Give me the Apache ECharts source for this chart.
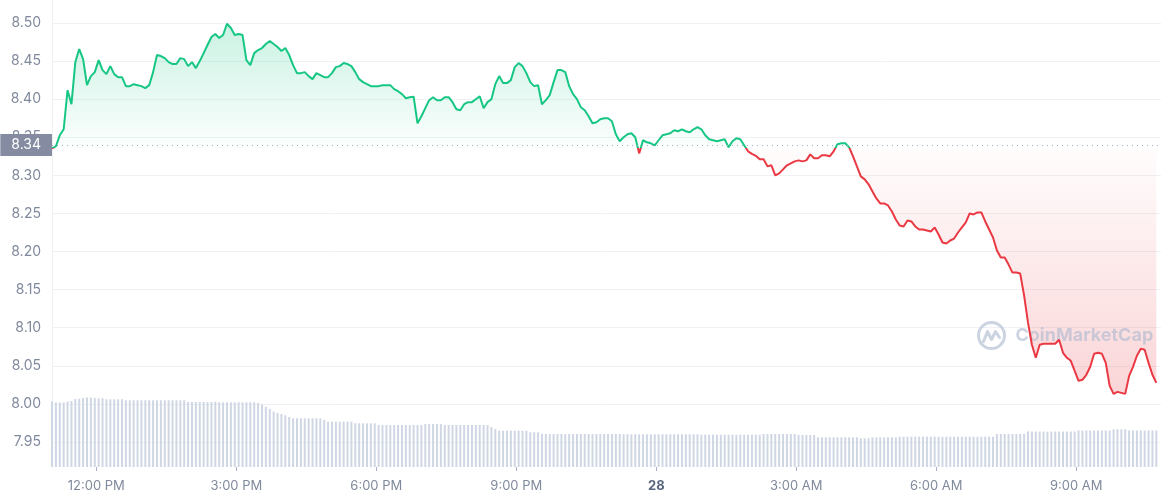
<!DOCTYPE html>
<html><head><meta charset="utf-8">
<script src="https://cdn.jsdelivr.net/npm/echarts@6/dist/echarts.min.js"></script>
<style>html,body{margin:0;padding:0;background:#fff}#c{width:1161px;height:500px}</style>
</head><body><div id="c"></div>
<script>
// ---- data (5-minute samples) ----
const prices = [
8.3355,8.3382,8.3526,8.3605,8.4118,8.3934,8.4487,8.4658,8.4526,8.4184,
8.4303,8.4355,8.4513,8.4382,8.4329,8.4434,8.4329,8.4289,8.4289,8.4171,
8.4171,8.4197,8.4184,8.4171,8.4145,8.4184,8.4355,8.4579,8.4566,8.4539,
8.4487,8.4461,8.4461,8.4539,8.4526,8.4434,8.4487,8.4408,8.4500,8.4605,
8.4711,8.4816,8.4855,8.4803,8.4842,8.4990,8.4934,8.4842,8.4855,8.4842,
8.4513,8.4447,8.4605,8.4645,8.4671,8.4724,8.4763,8.4724,8.4684,8.4632,
8.4671,8.4579,8.4447,8.4342,8.4342,8.4355,8.4303,8.4263,8.4342,8.4316,
8.4289,8.4289,8.4342,8.4421,8.4434,8.4474,8.4461,8.4434,8.4355,8.4263,
8.4224,8.4197,8.4171,8.4171,8.4171,8.4184,8.4184,8.4184,8.4132,8.4105,
8.4066,8.4013,8.4026,8.4033,8.3684,8.3776,8.3882,8.3987,8.4026,8.3987,
8.3987,8.4026,8.4026,8.3961,8.3868,8.3855,8.3934,8.3961,8.3961,8.4000,
8.4039,8.3882,8.3961,8.4000,8.4197,8.4303,8.4211,8.4211,8.4250,8.4421,
8.4474,8.4434,8.4342,8.4224,8.4171,8.4184,8.3934,8.3987,8.4053,8.4224,
8.4382,8.4382,8.4355,8.4171,8.4066,8.4000,8.3895,8.3855,8.3776,8.3684,
8.3697,8.3737,8.3750,8.3750,8.3711,8.3539,8.3447,8.3500,8.3539,8.3553,
8.3500,8.3289,8.3461,8.3434,8.3421,8.3395,8.3461,8.3526,8.3539,8.3553,
8.3592,8.3579,8.3605,8.3579,8.3566,8.3605,8.3632,8.3605,8.3526,8.3474,
8.3461,8.3447,8.3461,8.3474,8.3368,8.3447,8.3487,8.3474,8.3395,8.3316,
8.3283,8.3257,8.3211,8.3211,8.3118,8.3132,8.3000,8.3026,8.3079,8.3132,
8.3158,8.3184,8.3197,8.3184,8.3197,8.3276,8.3224,8.3224,8.3263,8.3263,
8.3250,8.3316,8.3408,8.3421,8.3421,8.3368,8.3250,8.3118,8.2987,8.2947,
8.2882,8.2789,8.2697,8.2632,8.2632,8.2605,8.2526,8.2421,8.2342,8.2329,
8.2408,8.2395,8.2329,8.2289,8.2289,8.2276,8.2263,8.2316,8.2224,8.2118,
8.2105,8.2145,8.2171,8.2250,8.2316,8.2382,8.2500,8.2487,8.2513,8.2513,
8.2395,8.2289,8.2184,8.2013,8.1921,8.1921,8.1829,8.1724,8.1724,8.1711,
8.1421,8.1066,8.0776,8.0605,8.0776,8.0789,8.0789,8.0789,8.0789,8.0842,
8.0671,8.0605,8.0566,8.0434,8.0303,8.0316,8.0382,8.0487,8.0658,8.0671,
8.0658,8.0539,8.0237,8.0132,8.0158,8.0145,8.0132,8.0368,8.0487,8.0632,
8.0724,8.0711,8.0539,8.0382,8.0276
];
const volumes = [
6.57,6.45,6.45,6.45,6.55,6.60,6.80,6.83,6.90,6.95,
6.95,6.90,6.87,6.87,6.77,6.77,6.77,6.77,6.77,6.67,
6.67,6.67,6.67,6.67,6.67,6.67,6.67,6.67,6.67,6.67,
6.67,6.67,6.67,6.67,6.67,6.50,6.50,6.50,6.50,6.50,
6.50,6.50,6.53,6.47,6.47,6.47,6.47,6.47,6.47,6.47,
6.47,6.47,6.47,6.40,6.25,6.03,5.80,5.55,5.40,5.30,
5.17,5.00,4.87,4.87,4.87,4.87,4.87,4.87,4.87,4.87,
4.70,4.53,4.53,4.53,4.53,4.53,4.53,4.53,4.37,4.37,
4.37,4.37,4.37,4.37,4.20,4.20,4.20,4.20,4.20,4.20,
4.20,4.20,4.20,4.20,4.20,4.20,4.30,4.30,4.30,4.30,
4.30,4.20,4.20,4.20,4.20,4.20,4.20,4.20,4.20,4.20,
4.20,4.20,4.20,4.00,3.80,3.63,3.63,3.63,3.63,3.63,
3.63,3.63,3.63,3.47,3.47,3.47,3.30,3.30,3.30,3.30,
3.30,3.30,3.30,3.30,3.30,3.30,3.30,3.30,3.30,3.30,
3.30,3.30,3.30,3.30,3.30,3.30,3.30,3.27,3.27,3.27,
3.27,3.27,3.27,3.27,3.27,3.27,3.27,3.27,3.27,3.27,
3.27,3.27,3.27,3.27,3.27,3.27,3.27,3.23,3.23,3.23,
3.23,3.23,3.23,3.23,3.23,3.23,3.23,3.23,3.23,3.23,
3.23,3.23,3.23,3.30,3.30,3.30,3.30,3.30,3.30,3.30,
3.30,3.30,3.20,3.20,3.20,3.20,3.20,2.97,2.97,2.97,
2.97,2.97,2.97,2.97,2.97,2.97,2.97,2.97,2.87,2.87,
2.87,2.97,2.97,2.97,2.97,2.97,2.97,2.97,3.03,3.03,
3.03,3.03,3.03,3.03,3.03,3.03,3.03,3.03,3.03,3.03,
3.03,3.03,3.03,3.03,3.03,3.03,3.03,3.03,3.03,3.03,
3.03,3.03,3.03,3.30,3.30,3.30,3.30,3.30,3.30,3.30,
3.30,3.55,3.55,3.55,3.55,3.55,3.55,3.55,3.55,3.55,
3.55,3.55,3.55,3.55,3.65,3.65,3.65,3.65,3.65,3.65,
3.65,3.65,3.65,3.77,3.77,3.77,3.77,3.65,3.65,3.65,
3.65,3.65,3.65,3.65,3.65
];
const openPrice = 8.3355;
const openLabel = '8.34';
const startTime = new Date(2023, 0, 27, 11, 3).getTime();
const endTime = new Date(2023, 0, 28, 10, 49).getTime();
const stepMs = 5 * 60 * 1000;
const xTickHours = [[27,12],[27,15],[27,18],[27,21],[28,0],[28,3],[28,6],[28,9]];
const yMin = 7.95, yMax = 8.50, yStep = 0.05;
const volMax = 46.7;

const GREEN = '#16c784', RED = '#ea3943';
const FONT = 'Inter, "Noto Sans", sans-serif';

const times = prices.map((_, i) => startTime + i * stepMs);
const lineData = prices.map((v, i) => [times[i], v]);
const upData = prices.map((v, i) => [times[i], Math.max(v, openPrice)]);
const downData = prices.map((v, i) => [times[i], Math.min(v, openPrice)]);
const volData = volumes.map((v, i) => [times[i], v]);
const xTicks = xTickHours.map(([d, h]) => new Date(2023, 0, d, h, 0).getTime());

function fmtTime(val) {
  const d = new Date(val);
  const h = d.getHours();
  if (h === 0) return '{d|' + d.getDate() + '}';
  const h12 = h % 12 === 0 ? 12 : h % 12;
  return h12 + ':00 ' + (h < 12 ? 'AM' : 'PM');
}

const chart = echarts.init(document.getElementById('c'), null, {renderer: 'canvas'});
chart.setOption({
  animation: false,
  backgroundColor: '#ffffff',
  textStyle: {fontFamily: FONT},
  grid: [
    {left: 52, right: 0, top: 23, bottom: 58},
    {left: 52, right: 0, top: 0, bottom: 33}
  ],
  xAxis: [
    {type: 'value', gridIndex: 0, min: startTime, max: endTime, show: false, splitLine: {show: false}},
    {type: 'value', gridIndex: 1, min: startTime, max: endTime,
     axisLine: {show: false},
     splitLine: {show: false},
     axisTick: {show: true, customValues: xTicks, length: 4, lineStyle: {color: '#a6b0c3'}},
     axisLabel: {customValues: xTicks, formatter: fmtTime, color: '#808a9d', fontSize: 13,
       fontFamily: FONT, margin: 13,
       rich: {d: {fontWeight: 'bold', color: '#58667e', fontSize: 13, fontFamily: FONT}}}}
  ],
  yAxis: [
    {type: 'value', gridIndex: 0, min: yMin, max: yMax, interval: yStep,
     axisLine: {show: false}, axisTick: {show: false},
     splitLine: {lineStyle: {color: '#eff2f5'}},
     axisLabel: {formatter: v => v.toFixed(2), color: '#808a9d', fontSize: 14, margin: 11, fontFamily: FONT}},
    {type: 'value', gridIndex: 1, min: 0, max: volMax,
     axisLine: {show: true, lineStyle: {color: '#eff2f5'}},
     axisTick: {show: false}, axisLabel: {show: false}, splitLine: {show: false}}
  ],
  graphic: [{
    type: 'group', left: 976, top: 320, z: 2,
    children: [
      {type: 'circle', shape: {cx: 15, cy: 15, r: 13}, z: 2,
       style: {fill: 'none', stroke: 'rgba(170,184,206,0.6)', lineWidth: 3}},
      {type: 'polyline', z: 2, shape: {points: [[7, 21], [11, 11], [15, 19], [19, 11], [23, 17]]},
       style: {fill: 'none', stroke: 'rgba(170,184,206,0.6)', lineWidth: 3, lineCap: 'round', lineJoin: 'round'}},
      {type: 'text', x: 39, y: 15, z: 2,
       style: {text: 'CoinMarketCap', font: 'bold 18px Inter', fill: 'rgba(170,184,206,0.6)', verticalAlign: 'middle'}}
    ]
  }],
  series: [
    {type: 'bar', xAxisIndex: 1, yAxisIndex: 1, data: volData, barWidth: 2,
     itemStyle: {color: '#cfd6e4'}, z: 1, silent: true},
    {type: 'line', xAxisIndex: 0, yAxisIndex: 0, data: upData, symbol: 'none', z: 1, silent: true,
     lineStyle: {width: 0, opacity: 0},
     areaStyle: {origin: openPrice, color: new echarts.graphic.LinearGradient(0, 0, 0, 1, [
       {offset: 0, color: 'rgba(22,199,132,0.32)'}, {offset: 1, color: 'rgba(22,199,132,0.02)'}])}},
    {type: 'line', xAxisIndex: 0, yAxisIndex: 0, data: downData, symbol: 'none', z: 1, silent: true,
     lineStyle: {width: 0, opacity: 0},
     areaStyle: {origin: openPrice, color: new echarts.graphic.LinearGradient(0, 0, 0, 1, [
       {offset: 0, color: 'rgba(234,57,67,0.02)'}, {offset: 1, color: 'rgba(234,57,67,0.30)'}])}},
    {id: 'price', type: 'line', xAxisIndex: 0, yAxisIndex: 0, data: lineData, symbol: 'none', z: 3,
     lineStyle: {width: 2, color: GREEN},
     markLine: {
       silent: true, symbol: 'none',
       lineStyle: {type: [1, 4], color: '#a6b0c3', width: 1},
       label: {show: true, position: 'start', formatter: openLabel, distance: 0,
         color: '#ffffff', fontSize: 14, fontFamily: FONT, backgroundColor: '#858ca2',
         padding: [4, 11, 4, 11], lineHeight: 14},
       data: [{yAxis: openPrice}]
     }}
  ]
});

// colour the price line green above / red below the opening price (split at its pixel row)
const H = chart.getHeight();
const baseY = chart.convertToPixel({xAxisIndex: 0, yAxisIndex: 0}, [startTime, openPrice])[1];
const split = Math.min(Math.max(baseY / H, 0), 1);
chart.setOption({
  series: [{id: 'price', lineStyle: {color: new echarts.graphic.LinearGradient(0, 0, 0, H, [
    {offset: 0, color: GREEN}, {offset: split, color: GREEN},
    {offset: split, color: RED}, {offset: 1, color: RED}], true)}}]
});
</script>
</body></html>
